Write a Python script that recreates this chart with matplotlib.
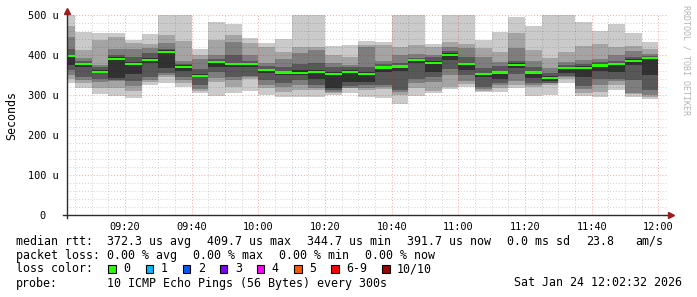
import pandas as pd
import matplotlib
matplotlib.use('Agg')
import matplotlib.pyplot as plt
import matplotlib.dates as mdates
from matplotlib.ticker import MultipleLocator, FuncFormatter
from matplotlib.patches import Rectangle

W, H = 697, 297

# 5 minute steps, 09:00 .. 11:55 (step start)
edges = pd.date_range('2026-01-24 09:00', periods=37, freq='5min')

# sorted ping rtts per step (us), ping1 = fastest .. ping10 = slowest
ping1 = [331, 317, 302, 298, 293, 325, 331, 319, 305, 298, 305, 311, 300, 296, 296, 296, 300, 306,
         294, 293, 277, 298, 306, 315, 319, 308, 308, 317, 297, 300, 330, 297, 294, 312, 296, 290]
ping2 = [340, 330, 317, 317, 310, 332, 345, 331, 310, 333, 319, 341, 318, 308, 312, 312, 305, 317,
         312, 315, 300, 317, 310, 320, 327, 310, 317, 325, 319, 325, 340, 305, 308, 325, 302, 295]
ping3 = [350, 338, 333, 335, 322, 338, 350, 338, 315, 342, 338, 344, 325, 320, 325, 317, 308, 318,
         318, 320, 308, 330, 333, 350, 336, 315, 325, 335, 325, 330, 345, 315, 325, 335, 306, 300]
ping4 = [362, 345, 340, 338, 335, 346, 356, 346, 325, 358, 346, 347, 338, 330, 338, 325, 312, 322,
         325, 325, 312, 340, 345, 365, 350, 319, 331, 352, 330, 331, 348, 322, 340, 340, 338, 312]
ping5 = [375, 370, 355, 342, 352, 380, 367, 359, 345, 370, 371, 371, 355, 349, 350, 340, 318, 333,
         333, 358, 360, 379, 358, 387, 362, 344, 340, 367, 342, 336, 356, 346, 360, 358, 375, 350]
ping6 = [400, 380, 362, 395, 382, 392, 412, 374, 352, 386, 381, 381, 366, 360, 362, 362, 358, 362,
         358, 373, 374, 390, 385, 404, 381, 356, 360, 379, 360, 347, 370, 372, 378, 380, 389, 395]
ping7 = [415, 385, 370, 400, 395, 404, 415, 378, 365, 390, 400, 386, 372, 370, 378, 379, 370, 370,
         370, 377, 380, 392, 394, 410, 395, 367, 372, 385, 370, 355, 375, 377, 382, 385, 395, 398]
ping8 = [446, 392, 375, 414, 414, 417, 431, 385, 390, 400, 433, 400, 380, 389, 406, 412, 381, 375,
         420, 385, 400, 402, 400, 421, 417, 396, 383, 418, 385, 367, 383, 387, 390, 400, 411, 402]
ping9 = [472, 412, 437, 446, 429, 427, 450, 436, 400, 437, 450, 429, 419, 408, 421, 421, 400, 396,
         425, 425, 421, 425, 420, 433, 427, 418, 408, 454, 412, 392, 408, 422, 427, 421, 423, 414]
ping10 = [540, 458, 456, 456, 437, 452, 540, 540, 414, 482, 478, 442, 429, 439, 540, 540, 422, 425,
          435, 433, 540, 540, 427, 540, 540, 437, 458, 496, 472, 540, 540, 483, 460, 478, 456, 433]
median = [397, 377, 358, 390, 378, 388, 408, 370, 348, 383, 377, 377, 363, 356, 355, 357, 352, 357,
          352, 369, 371, 387, 380, 400, 377, 352, 356, 375, 356, 343, 367, 368, 374, 377, 385, 392]

pings = [ping1, ping2, ping3, ping4, ping5, ping6, ping7, ping8, ping9, ping10]
smoke_colors = ['#cacaca', '#a4a4a4', '#7e7e7e', '#585858', '#323232']

loss_colors = ['#26ff00', '#00b8ff', '#0059ff', '#7e00ff', '#ff00ff', '#ff5500', '#ff0000', '#a10000']
loss_labels = ['0', '1', '2', '3', '4', '5', '6-9', '10/10']

plt.rcParams['font.family'] = ['DejaVu Sans Mono']


def px(x, y):
    return x / W, 1 - y / H


def stepvals(v):
    return list(v) + [v[-1]]


fig = plt.figure(figsize=(W / 100, H / 100), dpi=100)
ax = fig.add_axes([66.8 / W, 82 / H, 600 / W, 200 / H])

# smoke: outer pair first, darker inner pairs on top
for i in range(5):
    lo = stepvals(pings[i])
    hi = stepvals(pings[9 - i])
    ax.fill_between(edges, lo, hi, step='post', color=smoke_colors[i], lw=0, zorder=1)

med_lo = [m - 2.9 for m in median]
med_hi = [m + 2.9 for m in median]
ax.fill_between(edges, stepvals(med_lo), stepvals(med_hi), step='post',
                color=loss_colors[0], lw=0, zorder=3)

ax.set_xlim(pd.Timestamp('2026-01-24 09:02:32'), pd.Timestamp('2026-01-24 12:02:32'))
ax.set_ylim(0, 500)

ax.xaxis.set_major_locator(mdates.MinuteLocator(byminute=[0, 20, 40]))
ax.xaxis.set_minor_locator(mdates.MinuteLocator(byminute=range(0, 60, 5)))
ax.xaxis.set_major_formatter(mdates.DateFormatter('%H:%M'))
ax.yaxis.set_major_locator(MultipleLocator(100))
ax.yaxis.set_minor_locator(MultipleLocator(20))
ax.yaxis.set_major_formatter(FuncFormatter(lambda v, p: '0  ' if v == 0 else '%d u' % v))

ax.set_axisbelow(False)
ax.grid(which='minor', color='#000000', alpha=0.18, lw=0.7, ls=(0, (1, 2)), zorder=2)
ax.grid(which='major', color='#ff0000', alpha=0.35, lw=0.7, ls=(0, (1, 2)), zorder=2)

ax.tick_params(which='both', length=0, labelsize=7.4, colors='#000000')
ax.tick_params(axis='x', pad=5)
ax.tick_params(axis='y', pad=6)

for s in ax.spines.values():
    s.set_visible(False)

axis_col = '#2c2c2c'
ax.plot([0, 0], [-0.015, 1.015], color=axis_col, lw=1, transform=ax.transAxes, clip_on=False, zorder=4)
ax.plot([-0.006, 1.003], [0, 0], color=axis_col, lw=1, transform=ax.transAxes, clip_on=False, zorder=4)
ax.plot([0], [1.02], marker='^', ms=4, color='#9b1c1c', transform=ax.transAxes, clip_on=False, zorder=5)
ax.plot([1.007], [0], marker='>', ms=4, color='#9b1c1c', transform=ax.transAxes, clip_on=False, zorder=5)

fig.text(*px(12, 115), 'Seconds', rotation=90, ha='center', va='center', fontsize=8.4)
fig.text(*px(686, 60), 'RRDTOOL / TOBI OETIKER', rotation=270, ha='center', va='center',
         fontsize=6, color='#b4b4b4')

# legend block
fs = 8.4
lines = [
    (241.3, [(16, 'median rtt:'), (107.3, '372.3 us avg'), (206.7, '409.7 us max'),
             (306.7, '344.7 us min'), (406.7, '391.7 us now'), (507, '0.0 ms sd'),
             (586, '23.8'), (635.5, 'am/s')]),
    (255.3, [(16, 'packet loss:'), (107.3, '0.00 % avg'), (193.3, '0.00 % max'),
             (279.3, '0.00 % min'), (364.8, '0.00 % now')]),
    (283, [(16, 'probe:'), (107.3, '10 ICMP Echo Pings (56 Bytes) every 300s'),
           (513.7, 'Sat Jan 24 12:02:32 2026')]),
]
for y, items in lines:
    for x, t in items:
        fig.text(*px(x, y), t, ha='left', va='center', fontsize=fs)

fig.text(*px(16, 268.7), 'loss color:', ha='left', va='center', fontsize=fs)
box_x = [108.3, 145.7, 182.7, 220, 256.7, 294, 331, 382]
for bx, c, lab in zip(box_x, loss_colors, loss_labels):
    fig.add_artist(Rectangle(px(bx, 272.5), 7.5 / W, 7.5 / H, transform=fig.transFigure,
                             facecolor=c, edgecolor='#000000', lw=0.8))
    fig.text(*px(bx + 15, 268.7), lab, ha='left', va='center', fontsize=fs)

fig.savefig('out.png', dpi=100, facecolor='white')
